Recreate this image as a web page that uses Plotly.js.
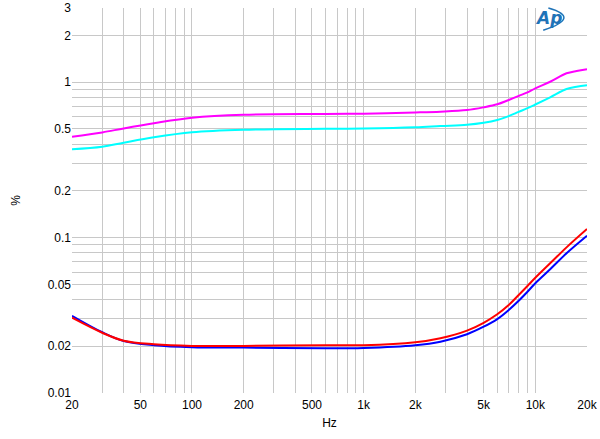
<!DOCTYPE html>
<html>
<head>
<meta charset="utf-8">
<script src="https://cdn.plot.ly/plotly-3.0.1.min.js"></script>
<style>html,body{margin:0;padding:0;background:#fff;}#chart{width:600px;height:439px;}</style>
</head>
<body>
<div id="chart"></div>
<script>
// Frequencies (Hz) for upper curves
const freqUpper = [20,30,40,60,100,200,600,1000,2000,2800,4000,5000,6000,7000,8000,9000,10000,12200,15200,17400,20000];
const magentaPct = [0.446,0.475,0.504,0.544,0.590,0.617,0.624,0.627,0.638,0.646,0.662,0.689,0.720,0.768,0.815,0.860,0.913,1.006,1.14,1.18,1.21];
const cyanPct    = [0.370,0.384,0.408,0.442,0.476,0.494,0.501,0.503,0.512,0.522,0.532,0.548,0.571,0.605,0.644,0.680,0.718,0.799,0.903,0.935,0.954];

// Frequencies (Hz) for lower curves
const freqLower = [20,30,40,60,100,200,600,1000,2000,2800,4000,5000,6000,7000,8000,9000,10000,12200,15200,20000];
const redPct  = [0.0305,0.0244,0.0217,0.0206,0.0201,0.0201,0.0203,0.0203,0.0212,0.0225,0.0252,0.0283,0.0321,0.0368,0.0427,0.0488,0.0551,0.0683,0.0865,0.1135];
const bluePct = [0.0314,0.0246,0.0216,0.0203,0.0197,0.0196,0.0194,0.0195,0.0203,0.0214,0.0239,0.0267,0.0299,0.0342,0.0392,0.0448,0.0508,0.0625,0.0792,0.1027];

// Tick / grid definitions
const xTickVals = [20,30,40,50,60,70,80,90,100,200,300,400,500,600,700,800,900,1000,2000,3000,4000,5000,6000,7000,8000,9000,10000,20000];
const xTickText = ['20','','','50','','','','','100','200','','','500','','','','','1k','2k','','','5k','','','','','10k','20k'];
const yTickVals = [0.01,0.02,0.03,0.04,0.05,0.06,0.07,0.08,0.09,0.1,0.2,0.3,0.4,0.5,0.6,0.7,0.8,0.9,1,2,3];
const yTickText = ['0.01','0.02','','','0.05','','','','','0.1','0.2','','','0.5','','','','','1','2','3'];

const mk = (x, y, color) => ({x: x, y: y, type: 'scatter', mode: 'lines',
  line: {color: color, width: 2, shape: 'spline', smoothing: 1}, hoverinfo: 'skip', showlegend: false});

const traces = [
  mk(freqUpper, cyanPct, '#00ffff'),
  mk(freqUpper, magentaPct, '#ff00ff'),
  mk(freqLower, bluePct, '#0000ff'),
  mk(freqLower, redPct, '#ff0000')
];

const font = {family: 'Liberation Sans, Arial, sans-serif', size: 12, color: '#000'};

const layout = {
  width: 600, height: 439,
  margin: {l: 72, r: 13, t: 8, b: 46},
  paper_bgcolor: '#fff', plot_bgcolor: '#fff',
  font: font,
  showlegend: false,
  xaxis: {
    type: 'log', range: [Math.log10(20), Math.log10(20000)],
    tickmode: 'array', tickvals: xTickVals, ticktext: xTickText,
    showgrid: true, gridcolor: '#c8c8c8', gridwidth: 1,
    zeroline: false, showline: false, ticks: '', ticklen: 0,
    ticklabelstandoff: 3,
    tickfont: font,
    title: {text: 'Hz', font: font, standoff: 7}
  },
  yaxis: {
    type: 'log', range: [Math.log10(0.01), Math.log10(3)],
    tickmode: 'array', tickvals: yTickVals, ticktext: yTickText,
    showgrid: true, gridcolor: '#c8c8c8', gridwidth: 1,
    zeroline: false, showline: false, ticks: '', ticklen: 0,
    tickfont: font,
    title: {text: '%', font: font, standoff: 24}
  },
  annotations: [
    {xref: 'paper', yref: 'paper', x: 0.925, y: 0.975, xanchor: 'center', yanchor: 'middle',
     text: '<i><b>Ap</b></i>', showarrow: false,
     font: {family: 'DejaVu Sans, sans-serif', size: 17, color: '#1f73b7'}}
  ],
  shapes: [
    {type: 'path', xref: 'paper', yref: 'paper', layer: 'above',
     path: 'M 0.925 1.0 Q 0.99 0.975 0.915 0.942',
     line: {color: '#1f73b7', width: 1.5}}
  ]
};

Plotly.newPlot('chart', traces, layout, {staticPlot: true, displayModeBar: false});
</script>
</body>
</html>
